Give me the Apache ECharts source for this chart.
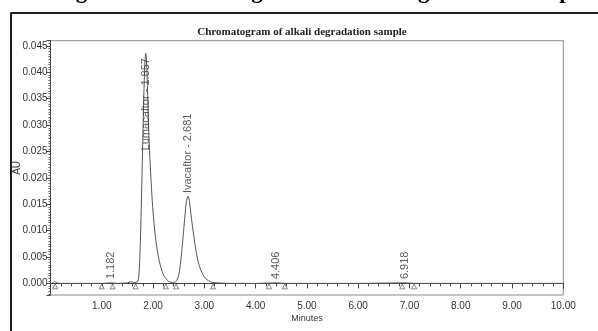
<!DOCTYPE html>
<html>
<head>
<meta charset="utf-8">
<script src="https://cdn.jsdelivr.net/npm/echarts@6/dist/echarts.min.js"></script>
<style>
html,body{margin:0;padding:0;background:#fff;}
#chart{width:598px;height:331px;}
</style>
</head>
<body>
<div id="chart"></div>
<script>
// Retention time (minutes) and absorbance (AU) of the chromatogram trace
const traceTime = [0.00,0.04,0.08,0.12,0.20,0.50,1.00,1.18,1.30,1.50,1.56,1.62,1.68,1.70,1.72,1.74,1.76,1.78,1.80,1.82,1.84,1.857,1.87,1.89,1.91,1.94,1.97,2.00,2.04,2.08,2.12,2.16,2.20,2.25,2.30,2.35,2.42,2.46,2.50,2.54,2.58,2.62,2.65,2.681,2.71,2.74,2.78,2.82,2.86,2.90,2.95,3.00,3.05,3.10,3.15,3.25,3.50,4.00,4.41,4.60,5.00,6.00,6.92,7.10,8.00,9.00,10.00];
const traceAU   = [0.0000,0.0001,0.0004,0.0001,0.0000,0.0000,0.0000,0.0001,0.0000,0.0001,0.0003,0.0002,0.0002,0.0003,0.0012,0.0045,0.0105,0.0185,0.0275,0.0355,0.0415,0.0436,0.0428,0.0375,0.0305,0.0235,0.0180,0.0135,0.0093,0.0064,0.0043,0.0028,0.0017,0.0009,0.0004,0.0002,0.0002,0.0005,0.0016,0.0042,0.0082,0.0126,0.0155,0.0165,0.0155,0.0130,0.0100,0.0072,0.0050,0.0034,0.0021,0.0012,0.0007,0.0004,0.0002,0.0001,0.0000,0.0000,0.0001,0.0000,0.0000,0.0000,0.0001,0.0000,0.0000,0.0000,0.0000];

// Integration start/end markers (minutes)
const markerTimes = [0.09,1.00,1.21,1.66,2.25,2.45,3.17,4.26,4.57,6.86,7.09];

// Peak labels: time, label anchor height (AU), text
const labelTimes  = [1.182, 1.857, 2.681, 4.406, 6.918];
const labelHeights = [0.0008, 0.0252, 0.0171, 0.0008, 0.0008];
const labelTexts  = ['1.182', 'Lumacaftor - 1.857', 'Ivacaftor - 2.681', '4.406', '6.918'];

const chart = echarts.init(document.getElementById('chart'), null, {renderer:'canvas'});

const trace = traceTime.map((t,i)=>[t, traceAU[i]]);
const markers = markerTimes.map(t=>[t, 0]);
const labels = labelTimes.map((t,i)=>[t, labelHeights[i], labelTexts[i]]);

const axisFont = {fontFamily:'Liberation Sans, Arial, sans-serif', fontSize:10, color:'#333'};

chart.setOption({
  animation:false,
  backgroundColor:'#fff',
  title:{text:' ', left:11, top:13, padding:[0,700,400,0], borderColor:'#111', borderWidth:1.5, textStyle:{fontSize:1}},
  graphic:[
    {type:'line', shape:{x1:11, y1:13, x2:598, y2:13}, style:{stroke:'#111', lineWidth:1.5}, z:10},
    {type:'line', shape:{x1:11, y1:13, x2:11, y2:331}, style:{stroke:'#111', lineWidth:1.5}, z:10},
    {type:'text', x:322, y:4, style:{text:'Figure 6: Chromatogram of alkali degradation sample', font:'bold 23px "Liberation Serif", "Times New Roman", serif', fill:'#000', align:'center', verticalAlign:'bottom'}, z:10},
    {type:'text', x:302, y:32, style:{text:'Chromatogram of alkali degradation sample', font:'bold 11px "Liberation Serif", "Times New Roman", serif', fill:'#222', align:'center', verticalAlign:'middle'}, z:10}
  ],
  grid:{left:50.5, right:34.7, top:40.7, bottom:36, containLabel:false, outerBoundsMode:'none', show:true, borderColor:'#8a8a8a', borderWidth:1, backgroundColor:'transparent'},
  xAxis:{
    type:'value', min:0, max:10, interval:1,
    name:'Minutes', nameLocation:'middle', nameGap:19, nameMoveOverlap:false,
    nameTextStyle:{fontFamily:'Liberation Sans, Arial, sans-serif', fontSize:9, color:'#333'},
    axisLine:{show:true, lineStyle:{color:'#444', width:1}},
    axisTick:{show:true, length:5, lineStyle:{color:'#444'}},
    minorTick:{show:true, splitNumber:5, length:3, lineStyle:{color:'#444'}},
    splitLine:{show:false},
    axisLabel:Object.assign({formatter:v=>v.toFixed(2), showMinLabel:false, margin:6}, axisFont)
  },
  yAxis:{
    type:'value', min:-0.0022, max:0.046, splitNumber:10,
    name:'AU', nameLocation:'middle', nameGap:28, nameRotate:90, nameMoveOverlap:false,
    nameTextStyle:{fontFamily:'Liberation Sans, Arial, sans-serif', fontSize:10, color:'#333'},
    axisLine:{show:true, lineStyle:{color:'#444', width:1}},
    axisTick:{show:true, length:4, lineStyle:{color:'#444'}},
    minorTick:{show:true, splitNumber:10, length:2, lineStyle:{color:'#666'}},
    splitLine:{show:false},
    axisLabel:Object.assign({formatter:v=>v.toFixed(3), showMinLabel:false, showMaxLabel:false, margin:3}, axisFont)
  },
  series:[
    {
      type:'line', data:trace, smooth:0.3, showSymbol:false, symbol:'none',
      lineStyle:{color:'#555', width:1}, z:3
    },
    {
      type:'scatter', data:markers, symbol:'triangle', symbolSize:5, symbolOffset:[0,3],
      itemStyle:{color:'#fff', borderColor:'#444', borderWidth:0.8}, z:4
    },
    {
      type:'scatter', data:labels, symbol:'circle', symbolSize:0.1,
      itemStyle:{color:'transparent'},
      label:{show:true, formatter:p=>p.data[2], position:'top', distance:0, rotate:90, align:'left', verticalAlign:'middle',
        fontFamily:'Liberation Sans, Arial, sans-serif', fontSize:11, color:'#333'},
      z:5
    }
  ]
});
</script>
</body>
</html>
